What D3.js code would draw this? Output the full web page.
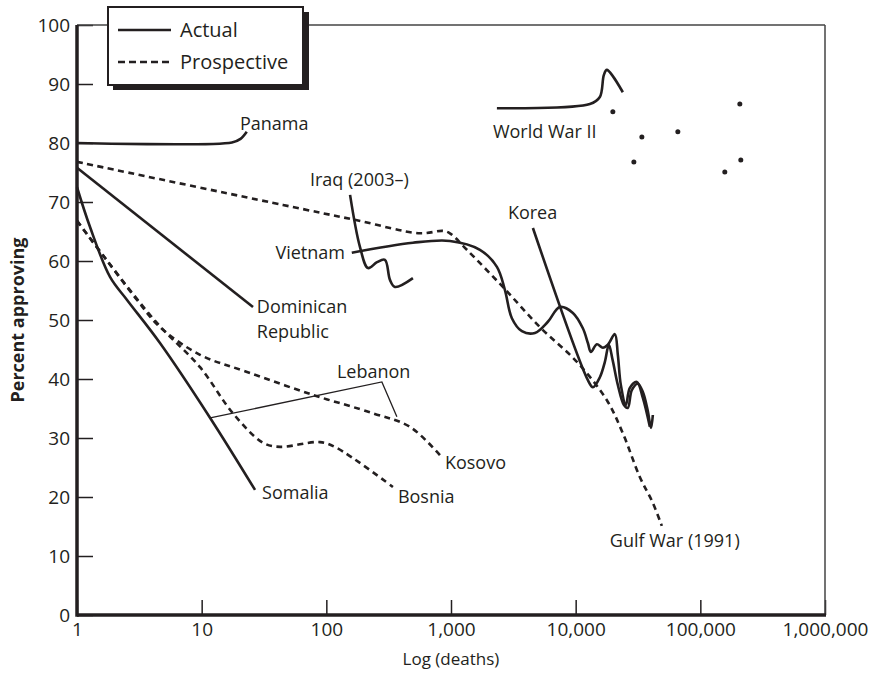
<!DOCTYPE html>
<html>
<head>
<meta charset="utf-8">
<script src="https://cdn.jsdelivr.net/npm/d3@7"></script>
<style>
  body { margin: 0; background: #fff; }
  svg { font-family: "Open Sans", sans-serif; }
</style>
</head>
<body>
<div id="chart"></div>
<script>
const width = 875;
const height = 675;

// axis ticks
const xTicks = [1, 10, 100, 1000, 10000, 100000, 1000000];
const yTicks = [0, 10, 20, 30, 40, 50, 60, 70, 80, 90, 100];

// series: [deaths, percent approving]
const panama = [[1, 80], [17.5, 80.1], [20.5, 80.7], [23, 81.9]];
const dominican = [[1, 75.8], [25.8, 52.2]];
const somalia = [[1, 72.5], [1.27, 65.8], [1.84, 57.3], [2.52, 53.4], [4.63, 46.1], [11.7, 33.4], [26.8, 21.2]];
const iraq = [[155, 71.2], [186, 62.4], [216, 58.8], [255, 59.8], [295, 60.2], [324, 56.8], [355, 55.6], [495, 57.1]];
const vietnam = [[160, 61.4], [495, 63.1], [980, 63.4], [1706, 61.9], [2335, 59.0], [2705, 55.1], [3078, 50.3],
  [3704, 48.1], [4710, 47.8], [5984, 49.7], [7470, 52.2], [9500, 51.2], [11420, 48.6], [12530, 46.1],
  [13250, 44.6], [14790, 45.9], [16520, 45.3], [18120, 45.8], [20610, 47.6], [21790, 44.1], [23030, 39.0],
  [25290, 35.6], [27210, 38.5], [30970, 39.5], [34590, 36.8], [39360, 31.9]];
const korea = [[4540, 65.6], [12530, 39.8], [13740, 38.6], [15640, 40.3], [17150, 42.9], [18460, 45.8],
  [19800, 43.2], [21790, 39.0], [24400, 35.6], [26200, 35.1], [28200, 38.1], [31500, 39.2], [34600, 37.8],
  [37800, 34.7], [40200, 31.7], [41600, 33.9]];
const ww2 = [[2335, 85.9], [13000, 86.6], [15630, 87.8], [16820, 91.5], [17800, 92.4], [23900, 88.6]];
const ww2Dots = [[19870, 85.3], [33960, 81.0], [29300, 76.8], [66000, 81.9], [207400, 86.6], [211200, 77.1], [157100, 75.1]];

// prospective
const gulfWar = [[1, 76.8], [44.9, 69.5], [176, 66.9], [563, 64.7], [861, 65.1], [980, 64.7], [1341, 61.9],
  [2607, 55.6], [5164, 48.8], [10230, 42.9], [17800, 36.4], [23900, 30.8], [32700, 23.4], [41600, 19.0], [49100, 15.1]];
const kosovo = [[1, 66.8], [1.68, 60.5], [3.03, 53.4], [4.63, 48.8], [9.7, 44.1], [23.1, 41.2], [78.1, 37.3],
  [236, 34.2], [468, 31.9], [815, 27.1]];
const bosnia = [[1, 66.8], [1.68, 60.5], [4.38, 49.5], [9.7, 42.0], [17.8, 34.2], [31.0, 29.2], [42.5, 28.5],
  [88.9, 29.3], [121.6, 28.3], [342, 21.7]];

const lebanonLeader = [[11.7, 33.4], [279, 39.5], [368, 33.6]];

const labels = [
  { text: "Panama", d: 20.3, p: 82.2, anchor: "start" },
  { text: "World War II", d: 2168, p: 80.8, anchor: "start" },
  { text: "Iraq (2003–)", d: 73.9, p: 72.7, anchor: "start" },
  { text: "Vietnam", d: 141, p: 60.3, anchor: "end" },
  { text: "Korea", d: 2860, p: 67.1, anchor: "start" },
  { text: "Dominican", d: 27.7, p: 51.2, anchor: "start" },
  { text: "Republic", d: 27.7, p: 46.9, anchor: "start" },
  { text: "Lebanon", d: 121.6, p: 40.2, anchor: "start" },
  { text: "Kosovo", d: 894, p: 24.7, anchor: "start" },
  { text: "Somalia", d: 30.5, p: 19.7, anchor: "start" },
  { text: "Bosnia", d: 375, p: 19.0, anchor: "start" },
  { text: "Gulf War (1991)", d: 18800, p: 11.5, anchor: "start" }
];

const series = [
  { data: panama, dashed: false },
  { data: dominican, dashed: false },
  { data: somalia, dashed: false },
  { data: iraq, dashed: false },
  { data: vietnam, dashed: false },
  { data: korea, dashed: false },
  { data: ww2, dashed: false },
  { data: gulfWar, dashed: true },
  { data: kosovo, dashed: true },
  { data: bosnia, dashed: true }
];

const ink = "#231f20";

const x = d3.scaleLog().domain([1, 1000000]).range([77, 825]);
const y = d3.scaleLinear().domain([0, 100]).range([615, 25]);

const svg = d3.select("#chart").append("svg")
  .attr("width", width)
  .attr("height", height);

// axes
const xAxis = svg.append("g")
  .attr("transform", `translate(0,${y(0)})`)
  .call(d3.axisBottom(x).tickValues(xTicks).tickFormat(d3.format(",")).tickSize(-15).tickPadding(8));
const yAxis = svg.append("g")
  .attr("transform", `translate(${x(1)},0)`)
  .call(d3.axisLeft(y).tickValues(yTicks).tickSize(-16).tickPadding(7));

[xAxis, yAxis].forEach(g => {
  g.select(".domain").remove();
  g.selectAll(".tick line").attr("stroke", ink).attr("stroke-width", 1.5);
  g.selectAll(".tick text").attr("fill", ink).style("font-size", "19px").style("font-family", "Open Sans");
});

// frame
svg.append("line")
  .attr("x1", x(1)).attr("x2", x(1000000)).attr("y1", y(100)).attr("y2", y(100))
  .attr("stroke", "#444").attr("stroke-width", 1.5);
svg.append("line")
  .attr("x1", x(1000000)).attr("x2", x(1000000)).attr("y1", y(100)).attr("y2", y(0))
  .attr("stroke", "#444").attr("stroke-width", 1.5);
svg.append("line")
  .attr("x1", x(1)).attr("x2", x(1000000) + 1).attr("y1", y(0)).attr("y2", y(0))
  .attr("stroke", ink).attr("stroke-width", 3.5);
svg.append("line")
  .attr("x1", x(1)).attr("x2", x(1)).attr("y1", y(100)).attr("y2", y(0) + 1.75)
  .attr("stroke", ink).attr("stroke-width", 3.5);

// axis titles
svg.append("text")
  .attr("x", x(1000)).attr("y", 665)
  .attr("text-anchor", "middle")
  .attr("fill", ink)
  .style("font-size", "17px")
  .text("Log (deaths)");
svg.append("text")
  .attr("transform", `translate(24,${(y(0) + y(100)) / 2}) rotate(-90)`)
  .attr("text-anchor", "middle")
  .attr("fill", ink)
  .style("font-size", "18px")
  .style("font-weight", "bold")
  .text("Percent approving");

// lines
const line = d3.line()
  .x(d => x(d[0]))
  .y(d => y(d[1]))
  .curve(d3.curveCatmullRom.alpha(0.5));

svg.selectAll(".series")
  .data(series)
  .enter().append("path")
  .attr("class", "series")
  .attr("d", d => line(d.data))
  .attr("fill", "none")
  .attr("stroke", ink)
  .attr("stroke-width", 2.6)
  .attr("stroke-linejoin", "round")
  .attr("stroke-dasharray", d => d.dashed ? "6,4.5" : null);

svg.append("path")
  .attr("d", d3.line().x(d => x(d[0])).y(d => y(d[1]))(lebanonLeader))
  .attr("fill", "none")
  .attr("stroke", ink)
  .attr("stroke-width", 1.3);

svg.selectAll(".dot")
  .data(ww2Dots)
  .enter().append("circle")
  .attr("class", "dot")
  .attr("cx", d => x(d[0]))
  .attr("cy", d => y(d[1]))
  .attr("r", 2.5)
  .attr("fill", ink);

// labels
svg.selectAll(".label")
  .data(labels)
  .enter().append("text")
  .attr("class", "label")
  .attr("x", d => x(d.d))
  .attr("y", d => y(d.p))
  .attr("text-anchor", d => d.anchor)
  .attr("fill", ink)
  .style("font-size", "18px")
  .text(d => d.text);

// legend
const legend = svg.append("g");
legend.append("rect")
  .attr("x", 113).attr("y", 12).attr("width", 196).attr("height", 78)
  .attr("fill", ink);
legend.append("rect")
  .attr("x", 108).attr("y", 7).attr("width", 195).attr("height", 78)
  .attr("fill", "#fff").attr("stroke", ink).attr("stroke-width", 2);

const legendItems = [
  { text: "Actual", dashed: false },
  { text: "Prospective", dashed: true }
];
const li = legend.selectAll(".li")
  .data(legendItems)
  .enter().append("g")
  .attr("transform", (d, i) => `translate(118,${30 + i * 32})`);
li.append("line")
  .attr("x1", 0).attr("x2", 53)
  .attr("stroke", ink).attr("stroke-width", 2.6)
  .attr("stroke-dasharray", d => d.dashed ? "7,4" : null);
li.append("text")
  .attr("x", 62).attr("y", 7)
  .attr("fill", ink)
  .style("font-size", "20px")
  .text(d => d.text);
</script>
</body>
</html>
